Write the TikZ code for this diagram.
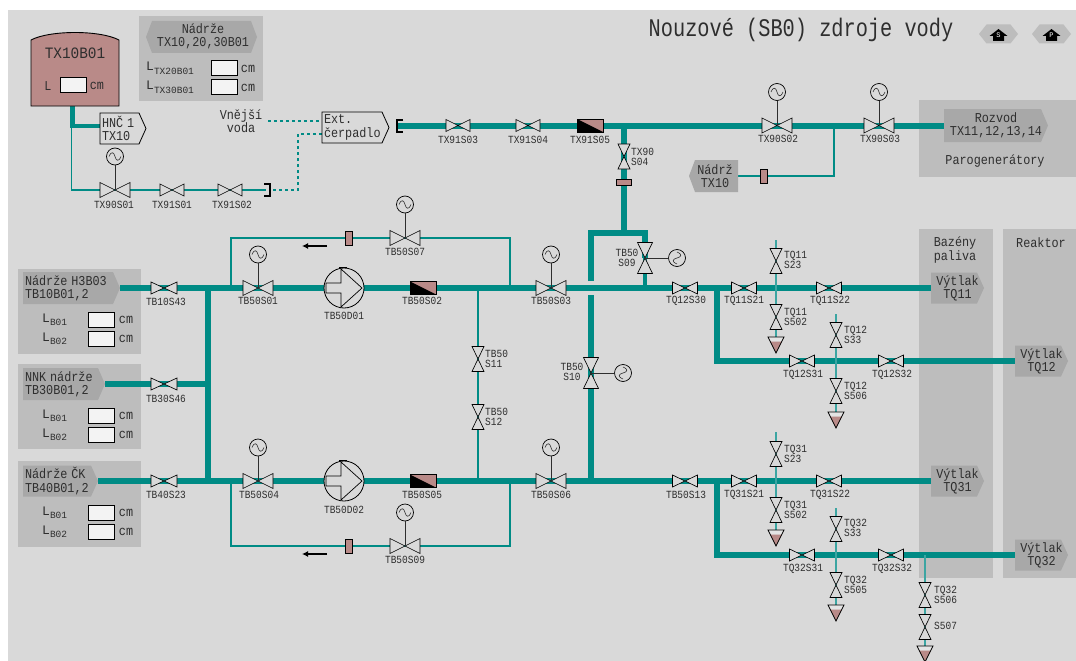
\documentclass[tikz,border=0pt]{standalone}
\usepackage{fontspec}
\setmainfont{Liberation Mono}
\usetikzlibrary{backgrounds,arrows.meta}
\definecolor{bgc}{HTML}{D9D9D9}
\definecolor{panelc}{HTML}{BDBDBD}
\definecolor{headc}{HTML}{A8A8A8}
\definecolor{tealc}{HTML}{008B85}
\definecolor{teall}{HTML}{3CA5A2}
\definecolor{pinkc}{HTML}{B98A88}
\definecolor{inkc}{HTML}{2E2E2E}
\definecolor{boxc}{HTML}{F3F3F3}
\tikzset{
  pipe/.style={draw=tealc,line width=6pt},
  pipem/.style={draw=tealc,line width=4.5pt},
  pipet/.style={draw=tealc,line width=1.7pt},
  pipel/.style={draw=teall,line width=1.2pt},
  dashpipe/.style={draw=tealc,line width=1.9pt,dash pattern=on 3pt off 3pt},
  vlv/.style={draw=black,line width=.65pt,fill=bgc},
  stem/.style={draw=inkc,line width=.8pt},
  act/.style={circle,draw=black,line width=.7pt,fill=bgc,minimum size=17pt,inner sep=0pt},
  wave/.style={draw=inkc,line width=.6pt},
  lbl/.style={text=inkc,align=center,inner sep=0pt,yscale=1.15,transform shape,font=\fontsize{9.5}{9.2}\selectfont},
  lbls/.style={text=inkc,align=left,anchor=west,inner sep=0pt,yscale=1.15,transform shape,font=\fontsize{9.5}{9.2}\selectfont},
  med/.style={text=inkc,align=center,inner sep=0pt,yscale=1.15,transform shape,font=\fontsize{11.8}{11.5}\selectfont},
  panel/.style={fill=panelc,anchor=north west,inner sep=0pt},
  valbox/.style={draw=black,line width=.9pt,fill=boxc,minimum width=26pt,minimum height=15.5pt,inner sep=0pt},
  head/.style={fill=headc,draw=none},
  outl/.style={draw=black,line width=.8pt,fill=bgc},
  orifv/.style={draw=black,line width=.8pt,fill=pinkc,minimum width=7pt,minimum height=14pt,inner sep=0pt},
  orifh/.style={draw=black,line width=.8pt,fill=pinkc,minimum width=15pt,minimum height=6pt,inner sep=0pt},
}
\newcount\lc
\newcommand{\Lbl}[3]{\global\advance\lc by 1 \node[lbl] (lbl\the\lc) at (#1,#2) {#3};}
\newcommand{\Sl}[3]{\global\advance\lc by 1 \node[lbls] (lbl\the\lc) at (#1,#2) {#3};}
\newcommand{\VH}[5]{\coordinate (#1) at (#2,#3);
  \draw[vlv,shift={(#2,#3)}] (-#4,-#5) -- (#4,#5) -- (#4,-#5) -- (-#4,#5) -- cycle;}
\newcommand{\VV}[5]{\coordinate (#1) at (#2,#3);
  \draw[vlv,shift={(#2,#3)}] (-#4,-#5) -- (#4,-#5) -- (-#4,#5) -- (#4,#5) -- cycle;}
\newcommand{\Wave}[2]{\draw[wave,shift={(#1.center)},rotate=#2] (-6,0) .. controls (-3.5,-6) and (-1,-4) .. (0,0) .. controls (1,4) and (3.5,6) .. (6,0);}
% motor valve with actuator above
\newcommand{\VA}[3]{\VH{#1}{#2}{#3}{15}{7.5}
  \pgfmathsetmacro\ay{#3-33.5}
  \node[act] (#1a) at (#2,\ay) {};
  \Wave{#1a}{0}
  \draw[stem] (#1a) -- (#1);}
% check box
\newcommand{\CB}[3]{\coordinate (#1) at (#2,#3);
  \draw[draw=black,line width=.8pt,fill=pinkc,shift={(#2,#3)}] (-13,-6.5) rectangle (13,6.5);
  \fill[black,shift={(#2,#3)}] (-13,-6.5) -- (13,6.5) -- (-13,6.5) -- cycle;}
% drain
\newcommand{\Dr}[3]{\coordinate (#1) at (#2,#3);
  \fill[bgc!70!white,shift={(#2,#3)}] (-8,0) -- (8,0) -- (5.9,4.5) -- (-5.9,4.5) -- cycle;
  \fill[pinkc,shift={(#2,#3)}] (-5.9,4.5) -- (5.9,4.5) -- (0,16) -- cycle;
  \draw[black,line width=.7pt,shift={(#2,#3)}] (-8,0) -- (8,0) -- (0,16) -- cycle;}
% right pointing tag: name,x1,y1,x2,y2,polystyle,align,text
\newcommand{\TagR}[8]{\pgfmathsetmacro\mx{(#2+#4)/2}\pgfmathsetmacro\my{(#3+#5)/2}
  \pgfmathsetmacro\tx{#4-7}\pgfmathsetmacro\tw{#4-#2-4}
  \draw[#6] (#2,#3) -- (\tx,#3) -- (#4,\my) -- (\tx,#5) -- (#2,#5) -- cycle;
  \node[text=inkc,inner xsep=2pt,inner ysep=0pt,text width=\tw pt,align=#7,yscale=1.15,transform shape,font=\fontsize{11.8}{11.5}\selectfont] (#1) at (\mx,\my) {#8};}
\newcommand{\Pump}[3]{\node[circle,draw=black,line width=.8pt,fill=bgc,minimum size=40pt,inner sep=0pt] (#1) at (#2,#3) {};
  \draw[black,line width=.7pt,shift={(#2,#3)}] (-18,-5) -- (-3,-5) -- (-3,-19) -- (18,0) -- (-3,19) -- (-3,5) -- (-18,5) -- cycle;
  \draw[black,line width=.8pt,shift={(#2,#3)}] (-5,-21) -- (3,-21);}
\newcommand{\Hex}[3]{\node[minimum width=39pt,minimum height=19pt,inner sep=0pt] (#1) at (#2,34) {};
  \fill[panelc,shift={(#2,34)}] (-19.5,0) -- (-12,-9.5) -- (12,-9.5) -- (19.5,0) -- (12,9.5) -- (-12,9.5) -- cycle;
  \fill[black,shift={(#2,34)}] (-9,2) -- (0,-5) -- (9,2) -- (5.5,2) -- (5.5,7) -- (-5.5,7) -- (-5.5,2) -- cycle;
  \node[text=white,inner sep=0pt,font=\fontsize{7}{7}\selectfont] (#1t) at (#2,35) {#3};}
\begin{document}
\begin{tikzpicture}[x=1pt,y=-1pt]
\useasboundingbox (0,0) rectangle (1076,661);
\begin{scope}[on background layer]
  \fill[white] (0,0) rectangle (1076,661);
  \fill[bgc] (8,10) rectangle (1076,661);
  \node[panel,minimum width=124pt,minimum height=85pt] (pTX) at (139,16) {};
  \node[panel,minimum width=157pt,minimum height=77pt] (pROZ) at (919,100) {};
  \node[panel,minimum width=123pt,minimum height=85pt] (pH) at (18,269) {};
  \node[panel,minimum width=123pt,minimum height=85pt] (pN) at (18,364) {};
  \node[panel,minimum width=123pt,minimum height=86pt] (pC) at (18,461) {};
  \node[panel,minimum width=74pt,minimum height=349pt] (pBAZ) at (919,229) {};
  \node[panel,minimum width=73pt,minimum height=349pt] (pREA) at (1003,229) {};
\end{scope}

% title and icons
\node[text=inkc,inner sep=0pt,font=\fontsize{20.3}{22}\selectfont,yscale=1.25,transform shape] (title) at (801,30) {Nouzové (SB0) zdroje vody};
\Hex{iconS}{998.5}{S}
\Hex{iconP}{1051.5}{P}

% tank
\draw[draw=black,line width=.9pt,fill=pinkc] (31,106) -- (119,106) -- (119,40) .. controls (100,30) and (50,30) .. (31,40) -- cycle;
\node[inner sep=0pt,minimum width=88pt,minimum height=74pt] (tank) at (75,69) {};
\node[text=inkc,inner sep=0pt,yscale=1.1,transform shape,font=\fontsize{14.4}{14}\selectfont] (tankt) at (75,53) {TX10B01};
\node[med] (tankL) at (48,86) {L};
\node[valbox] (tankv) at (73.5,85) {};
\node[med] (tankc) at (97,86) {cm};
% TX panel
\path[head] (146,37) -- (152,21) -- (251,21) -- (257,37) -- (251,53) -- (152,53) -- cycle;
\node[med] (txhead) at (203,36) {Nádrže\\TX10,20,30B01};
\node[anchor=west,text=inkc,inner sep=0pt,font=\fontsize{13}{13}\selectfont] (txl1) at (146,68) {L\raisebox{-4pt}{\fontsize{9.5}{10}\selectfont TX20B01}};
\node[anchor=west,text=inkc,inner sep=0pt,font=\fontsize{13}{13}\selectfont] (txl2) at (146,87) {L\raisebox{-4pt}{\fontsize{9.5}{10}\selectfont TX30B01}};
\node[valbox] (txv1) at (224,68) {};
\node[valbox] (txv2) at (224,87) {};
\node[med] (txc1) at (248,69) {cm};
\node[med] (txc2) at (248,88) {cm};

% left panels
\newcommand{\LevelRows}[2]{
  \node[anchor=west,text=inkc,inner sep=0pt,font=\fontsize{13}{13}\selectfont] (#1la) at (42,#2) {L\raisebox{-3pt}{\fontsize{9.5}{10}\selectfont B01}};
  \pgfmathsetmacro\yb{#2+19}
  \node[anchor=west,text=inkc,inner sep=0pt,font=\fontsize{13}{13}\selectfont] (#1lb) at (42,\yb) {L\raisebox{-3pt}{\fontsize{9.5}{10}\selectfont B02}};
  \node[valbox] (#1va) at (101,#2) {};
  \node[valbox] (#1vb) at (101,\yb) {};
  \node[med] (#1ca) at (126,#2) {cm};
  \node[med] (#1cb) at (126,\yb) {cm};}
\TagR{tagH}{23}{272}{120}{304}{head}{left}{Nádrže H3B03\\TB10B01,2}
\LevelRows{h}{320}
\TagR{tagN}{23}{368}{105}{400}{head}{left}{NNK nádrže\\TB30B01,2}
\LevelRows{n}{416}
\TagR{tagC}{23}{465.5}{98}{496.5}{head}{left}{Nádrže ČK\\TB40B01,2}
\LevelRows{c}{513}

% HNC / Ext tags
\TagR{tagHNC}{100}{113}{146}{144}{outl}{left}{HNČ 1\\TX10}
\node[med] (vvoda) at (241,121) {Vnější\\voda};
\TagR{tagExt}{322}{112}{389}{143}{outl}{left}{Ext.\\čerpadlo}
\TagR{tagRoz}{944}{109}{1048}{142}{head}{center}{Rozvod\\TX11,12,13,14}
\node[med] (parog) at (995,161) {Parogenerátory};
\path[head] (689,176) -- (695,160) -- (738,160) -- (738,192) -- (695,192) -- cycle;
\node[med] (tagNT) at (715,176) {Nádrž\\TX10};
\node[inner sep=0pt,minimum width=49pt,minimum height=32pt] (tagNTb) at (713.5,176) {};

% top-left line
\VA{vTX90S01}{115}{190}
\Lbl{114}{205}{TX90S01}
\VH{vTX91S01}{172}{190}{12}{6}
\Lbl{172}{205}{TX91S01}
\VH{vTX91S02}{230}{190}{12}{6}
\Lbl{232}{205}{TX91S02}
\draw[black,line width=1.5pt] (264,184) -- (270,184) -- (270,196) -- (264,196);
\coordinate (brL) at (266,190);
\coordinate (brLd) at (273,190);
\draw[black,line width=1.5pt] (403,120) -- (397,120) -- (397,132) -- (403,132);
\coordinate (brR) at (398,125.5);

% top main line
\VH{vTX91S03}{458}{125.5}{12}{6}
\Lbl{458}{140}{TX91S03}
\VH{vTX91S04}{528}{125.5}{12}{6}
\Lbl{528}{140}{TX91S04}
\CB{vTX91S05}{590}{125.5}
\Lbl{590}{140}{TX91S05}
\VA{vTX90S02}{777}{125.5}
\Lbl{778}{139}{TX90S02}
\VA{vTX90S03}{879}{125.5}
\Lbl{880}{139}{TX90S03}
\VV{vTX90S04}{624}{156.5}{6}{12.5}
\Sl{631}{157}{TX90\\ S04}
\node[orifh] (oS04) at (624,182) {};
\node[orifv] (oNT) at (764,176) {};

% upper cross junctions
\coordinate (jTop) at (624,233);
\coordinate (jL) at (591,233);
\coordinate (jR) at (645,233);
\coordinate (gapA) at (591,281);
\coordinate (gapB) at (591,295);
\VV{vTB50S09}{645}{258}{7.5}{15.5}
\node[act] (vTB50S09a) at (677,258) {};
\Wave{vTB50S09a}{90}
\draw[stem] (vTB50S09a) -- (vTB50S09);
\Lbl{627}{258}{TB50\\S09}
\VV{vTB50S10}{591}{373}{7.5}{15.5}
\node[act] (vTB50S10a) at (623,373) {};
\Wave{vTB50S10a}{90}
\draw[stem] (vTB50S10a) -- (vTB50S10);
\Lbl{572}{372}{TB50\\S10}

% left valves
\VH{vTB10}{164}{288}{13}{6}
\Lbl{166}{302}{TB10S43}
\VH{vTB30}{164}{384}{13}{6}
\Lbl{166}{399}{TB30S46}
\VH{vTB40}{164}{481}{13}{6}
\Lbl{166}{495}{TB40S23}
\coordinate (j208a) at (208,288);
\coordinate (j208b) at (208,384);
\coordinate (j208c) at (208,481);

\VA{vTB50S01}{258}{288}
\Lbl{258}{301}{TB50S01}
\VA{vTB50S04}{258}{481}
\Lbl{259}{495}{TB50S04}
\Pump{pump1}{344}{288}
\Lbl{344}{316}{TB50D01}
\Pump{pump2}{344}{481}
\Lbl{344}{510}{TB50D02}
\CB{vTB50S02}{423}{288}
\Lbl{422}{301}{TB50S02}
\CB{vTB50S05}{423}{481}
\Lbl{422}{495}{TB50S05}
\VA{vTB50S03}{551}{288}
\Lbl{551}{301}{TB50S03}
\VA{vTB50S06}{551}{481}
\Lbl{551}{495}{TB50S06}

% cross tie
\coordinate (j478a) at (478,288);
\coordinate (j478b) at (478,481);
\VV{vTB50S11}{478}{359}{6}{12.5}
\Sl{485}{359}{TB50\\ S11}
\VV{vTB50S12}{478}{417}{6}{12.5}
\Sl{485}{417}{TB50\\ S12}

% recirculation
\coordinate (rA) at (231,288);\coordinate (rB) at (231,238);\coordinate (rC) at (510,238);\coordinate (rD) at (510,288);
\coordinate (sA) at (231,481);\coordinate (sB) at (231,546);\coordinate (sC) at (510,546);\coordinate (sD) at (510,481);
\node[orifv] (oR1) at (349,238) {};
\node[orifv] (oR2) at (349,546) {};
\VA{vTB50S07}{405}{238}
\Lbl{405}{252}{TB50S07}
\VA{vTB50S09b}{405}{546}
\Lbl{405}{560}{TB50S09}
\coordinate (arA) at (327,246);\coordinate (arB) at (302,246);
\coordinate (arC) at (327,554);\coordinate (arD) at (302,554);
\draw[black,line width=1.5pt,-{Latex[length=6pt,width=6pt]}] (arA) -- (arB);
\draw[black,line width=1.5pt,-{Latex[length=6pt,width=6pt]}] (arC) -- (arD);

% right side, upper
\VH{vTQ12S30}{685}{288}{12.5}{6}
\Lbl{686}{301}{TQ12S30}
\VH{vTQ11S21}{744}{288}{12.5}{6}
\Lbl{744}{301}{TQ11S21}
\VH{vTQ11S22}{829}{288}{12.5}{6}
\Lbl{830}{301}{TQ11S22}
\TagR{tagQ11}{931}{272.5}{984}{303.5}{head}{center}{Výtlak\\TQ11}
\coordinate (b1) at (717,288);
\coordinate (b1c) at (717,361);
\VH{vTQ12S31}{802}{361}{12.5}{6}
\Lbl{803}{375}{TQ12S31}
\VH{vTQ12S32}{891}{361}{12.5}{6}
\Lbl{892}{375}{TQ12S32}
\TagR{tagQ12}{1015}{345.5}{1068}{376.5}{head}{center}{Výtlak\\TQ12}
\coordinate (d11t) at (776,240);
\VV{vTQ11S23}{776}{261}{6}{12.5}
\Sl{784}{260}{TQ11\\ S23}
\VV{vTQ11S502}{776}{317}{6}{12.5}
\Sl{784}{317}{TQ11\\S502}
\Dr{dr11}{776}{337}
\coordinate (d12t) at (836,314);
\VV{vTQ12S33}{836}{335}{6}{12.5}
\Sl{844}{335}{TQ12\\ S33}
\VV{vTQ12S506}{836}{391}{6}{12.5}
\Sl{844}{391}{TQ12\\S506}
\Dr{dr12}{836}{412}

% right side, lower
\VH{vTB50S13}{685}{481}{12.5}{6}
\Lbl{686}{495}{TB50S13}
\VH{vTQ31S21}{744}{481}{12.5}{6}
\Lbl{744}{495}{TQ31S21}
\VH{vTQ31S22}{829}{481}{12.5}{6}
\Lbl{830}{495}{TQ31S22}
\TagR{tagQ31}{931}{465.5}{984}{496.5}{head}{center}{Výtlak\\TQ31}
\coordinate (b3) at (717,481);
\coordinate (b3c) at (717,555);
\VH{vTQ32S31}{802}{555}{12.5}{6}
\Lbl{803}{569}{TQ32S31}
\VH{vTQ32S32}{891}{555}{12.5}{6}
\Lbl{892}{569}{TQ32S32}
\TagR{tagQ32}{1015}{539.5}{1068}{570.5}{head}{center}{Výtlak\\TQ32}
\coordinate (d31t) at (776,432);
\VV{vTQ31S23}{776}{454}{6}{12.5}
\Sl{784}{454}{TQ31\\ S23}
\VV{vTQ31S502}{776}{510}{6}{12.5}
\Sl{784}{510}{TQ31\\S502}
\Dr{dr31}{776}{530}
\coordinate (d32t) at (836,508);
\VV{vTQ32S33}{836}{529}{6}{12.5}
\Sl{844}{528}{TQ32\\ S33}
\VV{vTQ32S505}{836}{585}{6}{12.5}
\Sl{844}{585}{TQ32\\S505}
\Dr{dr32}{836}{605}
\coordinate (d33t) at (925,555);
\VV{vTQ32S506}{925}{595}{6}{12.5}
\Sl{934}{595}{TQ32\\S506}
\VV{vTQ32S507}{925}{627}{6}{12.5}
\Sl{934}{626}{S507}
\Dr{dr33}{925}{646}

% panel texts
\node[med] (baz) at (955,250) {Bazény\\paliva};
\node[med] (rea) at (1041,243) {Reaktor};

% pipes
\begin{scope}[on background layer]
  \path[pipem,line join=miter] (tank.south -| 72.5,0) -- (72.5,126) -- (tagHNC.west |- 0,126);
  \path[pipet] (71.5,126) |- (vTX90S01) -- (vTX91S01) -- (vTX91S02) -- (brL);
  \path[dashpipe] (brLd) -- (298,190) -- (298,134) -- (tagExt.west |- 0,134);
  \path[dashpipe] (268,121) -- (tagExt.west |- 0,121);
  \path[pipe] (brR) -- (vTX91S03) -- (vTX91S04) -- (vTX91S05) -- (vTX90S02) -- (vTX90S03) -- (tagRoz.west);
  \path[pipe] (624,125.5) -- (vTX90S04) -- (oS04) -- (jTop);
  \path[pipet] (tagNTb.east) -- (oNT) -- (834,176) -- (834,125.5);
  \path[pipe,line join=miter] (gapA) -- (jL) -- (jR) -- (vTB50S09);
  \path[pipem] (vTB50S09) -- (645,288);
  \path[pipe] (gapB) -- (vTB50S10) -- (591,481);
  \path[pipe] (tagH.east) -- (vTB10) -- (j208a) -- (vTB50S01) -- (pump1.west);
  \path[pipe] (pump1.east) -- (vTB50S02) -- (j478a) -- (vTB50S03) -- (vTQ12S30) -- (b1) -- (vTQ11S21) -- (vTQ11S22) -- (tagQ11.west);
  \path[pipe] (tagN.east) -- (vTB30) -- (j208b);
  \path[pipe] (tagC.east) -- (vTB40) -- (j208c) -- (vTB50S04) -- (pump2.west);
  \path[pipe] (pump2.east) -- (vTB50S05) -- (j478b) -- (vTB50S06) -- (vTB50S13) -- (b3) -- (vTQ31S21) -- (vTQ31S22) -- (tagQ31.west);
  \path[pipe] (j208a) -- (j208c);
  \path[pipe,line join=miter] (b1) -- (b1c) -- (vTQ12S31) -- (vTQ12S32) -- (tagQ12.west);
  \path[pipe,line join=miter] (b3) -- (b3c) -- (vTQ32S31) -- (vTQ32S32) -- (tagQ32.west);
  \path[pipet] (j478a) -- (vTB50S11) -- (vTB50S12) -- (j478b);
  \path[pipet] (rA) -- (rB) -- (oR1) -- (vTB50S07) -- (rC) -- (rD);
  \path[pipet] (sA) -- (sB) -- (oR2) -- (vTB50S09b) -- (sC) -- (sD);
  \path[pipel] (d11t) -- (vTQ11S23) -- (vTQ11S502) -- (dr11);
  \path[pipel] (d12t) -- (vTQ12S33) -- (vTQ12S506) -- (dr12);
  \path[pipel] (d31t) -- (vTQ31S23) -- (vTQ31S502) -- (dr31);
  \path[pipel] (d32t) -- (vTQ32S33) -- (vTQ32S505) -- (dr32);
  \path[pipel] (d33t) -- (vTQ32S506) -- (vTQ32S507) -- (dr33);
\end{scope}
\end{tikzpicture}
\end{document}
